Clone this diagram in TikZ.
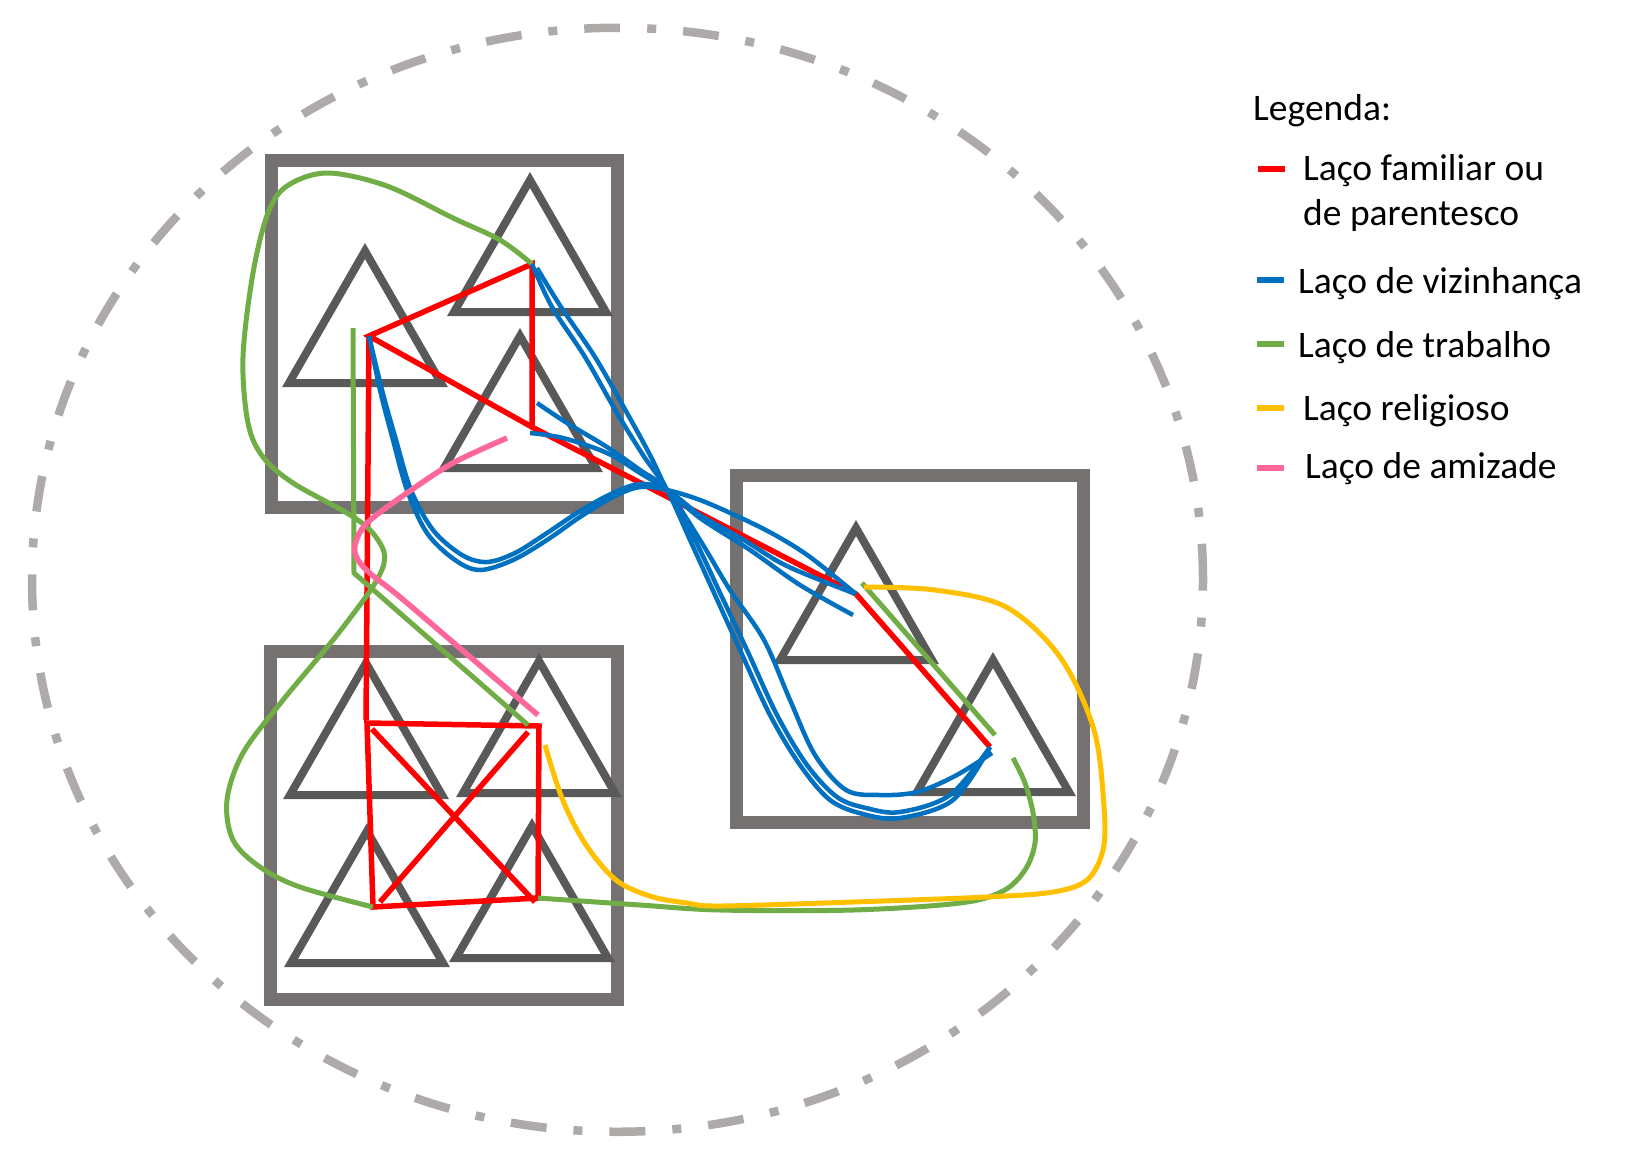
\documentclass[tikz,border=0pt]{standalone}
\usepackage{fontspec}
\setmainfont{Carlito}
\definecolor{boxgray}{RGB}{118,113,113}
\definecolor{trigray}{RGB}{89,89,89}
\definecolor{ellgray}{RGB}{174,170,170}
\definecolor{cred}{RGB}{255,0,0}
\definecolor{cblue}{RGB}{0,112,192}
\definecolor{cgreen}{RGB}{112,173,71}
\definecolor{cyellow}{RGB}{255,192,0}
\definecolor{cpink}{RGB}{255,102,153}
\newcommand{\drawtri}[2]{\draw[tri] (#1,#2) -- ++(-76,132) -- ++(152,0) -- cycle;}
\begin{document}
\begin{tikzpicture}[x=1pt,y=-1pt,
  house/.style={draw=boxgray,line width=13pt},
  tri/.style={draw=trigray,line width=8pt},
  region/.style={draw=ellgray,line width=8.5pt,dash pattern=on 36pt off 27pt on 9pt off 27pt},
  famtie/.style={draw=cred,line width=5.5pt},
  neightie/.style={draw=cblue,line width=4.5pt},
  worktie/.style={draw=cgreen,line width=5pt},
  reltie/.style={draw=cyellow,line width=5pt},
  friendtie/.style={draw=cpink,line width=5.5pt},
  legtext/.style={anchor=base west,inner sep=0pt,font=\fontsize{37.5}{45}\selectfont},
  swatch/.style={line width=6pt}
]
\useasboundingbox (0,0) rectangle (1648,1168);
\fill[white] (0,0) rectangle (1648,1168);

% region
\draw[region] (617.5,579.75) ellipse [x radius=585.5pt, y radius=552pt];

% houses
\draw[house] (271,160.5) rectangle (617.5,507.5);
\draw[house] (270.5,651.5) rectangle (617.5,999);
\draw[house] (736.5,475.5) rectangle (1083.5,822);

% families (triangles)
\drawtri{365}{251}
\drawtri{530}{180}
\drawtri{520}{336}
\drawtri{366}{663}
\drawtri{539}{661}
\drawtri{367}{831}
\drawtri{532}{826}
\drawtri{856}{528}
\drawtri{993}{660}

% named points
\coordinate (pA) at (369,336);
\coordinate (pB) at (532,264);
\coordinate (pB2) at (537,268);
\coordinate (pC) at (532,427);
\coordinate (pinch) at (667,490);
\coordinate (pH) at (856,594);
\coordinate (pI) at (990,747);
\coordinate (pI2) at (992,753);
\coordinate (hEnd) at (853,615);
\coordinate (c1) at (537,403);
\coordinate (c2) at (530,433);
\coordinate (redEnd) at (366,720);
\coordinate (sTL) at (367,723);
\coordinate (sTR) at (539,726);
\coordinate (sBR) at (538,898);
\coordinate (sBL) at (373,907);
\coordinate (dA) at (372,729);
\coordinate (dB) at (535,902);
\coordinate (dC) at (528,732);
\coordinate (dD) at (380,902);
\coordinate (gvTop) at (353,328);
\coordinate (gvBend) at (354,573);
\coordinate (gE) at (528,725);
\coordinate (gI) at (1013,758);
\coordinate (gH) at (862,583);
\coordinate (gI2) at (995,735);
\coordinate (yE) at (545,745);
\coordinate (yH) at (864,587);
\coordinate (pkC) at (507,438);
\coordinate (pkE) at (538,715);

% family ties
\draw[famtie] (pA) -- (pB) -- (pC) -- cycle;
\draw[famtie] (pC) -- (pH) -- (pI);
\draw[famtie] (pA) -- (redEnd);
\draw[famtie] (sTL) -- (sTR) -- (sBR) -- (sBL) -- cycle;
\draw[famtie] (dA) -- (dB);
\draw[famtie] (dC) -- (dD);

% work ties
\draw[worktie] plot[smooth,tension=0.55] coordinates {(pB) (500,240) (453,218) (387,186) (327,173) (287,186) (268,213) (253,273) (243,357) (248,423) (263,457) (293,483) (347,513) (370,530) (383,549) (384,563) (378,578) (365,598) (333,640) (283,700) (243,753) (227,800) (233,840) (260,867) (300,887) (sBL)};
\draw[worktie] (gvTop) -- (gvBend) -- (gE);
\draw[worktie] plot[smooth,tension=0.55] coordinates {(sBR) (640,905) (720,910) (853,910) (960,903) (1003,891) (1025,870) (1035,843) (1033,813) (1025,783) (gI)};
\draw[worktie] (gH) -- (gI2);

% neighbourhood ties
\draw[neightie] plot[smooth,tension=0.55] coordinates {(pA) (380,390) (393,440) (407,490) (427,533) (455,560) (480,570) (513,560) (547,540) (580,517) (613,497) (640,487) (pinch) (700,500) (739,517) (775,535) (810,557) (pH)};
\draw[neightie] plot[smooth,tension=0.55] coordinates {(pA) (382,390) (396,440) (411,490) (433,530) (462,555) (487,562) (515,553) (547,533) (580,511) (613,493) (640,484) (pinch) (700,515) (739,537) (781,563) (820,580) (pH)};
\draw[neightie] plot[smooth,tension=0.55] coordinates {(pB) (552,307) (585,357) (617,413) (643,455) (pinch) (690,540) (715,595) (740,650) (770,715) (800,765) (830,800) (863,814) (900,818) (953,800) (pI)};
\draw[neightie] plot[smooth,tension=0.55] coordinates {(pB2) (561,307) (595,357) (627,413) (650,455) (pinch) (695,540) (721,595) (747,650) (777,715) (807,765) (837,797) (866,808) (900,812) (950,795) (pI)};
\draw[neightie] plot[smooth,tension=0.55] coordinates {(c1) (567,423) (607,447) (640,470) (pinch) (700,540) (730,590) (764,640) (790,700) (815,755) (846,790) (880,795) (917,792) (955,776) (pI2)};
\draw[neightie] plot[smooth,tension=0.55] coordinates {(c2) (563,438) (607,453) (640,473) (pinch) (700,518) (750,550) (800,585) (hEnd)};

% religious tie
\draw[reltie] plot[smooth,tension=0.55] coordinates {(yE) (560,793) (577,830) (597,860) (620,883) (653,897) (687,903) (720,906) (853,902) (987,897) (1053,892) (1087,880) (1103,850) (1104,807) (1094,730) (1060,657) (1006,607) (935,590) (yH)};

% friendship tie
\draw[friendtie] plot[smooth,tension=0.55] coordinates {(pkC) (453,463) (407,493) (367,523) (355,545) (358,560) (372,575) (400,597) (469,656) (pkE)};

% legend
\node[legtext] (legtitle) at (1253,120) {Legenda:};
\node[legtext] (leg1) at (1303,180) {Laço familiar ou};
\node[legtext] (leg1b) at (1303,225) {de parentesco};
\node[legtext] (leg2) at (1298,293) {Laço de vizinhança};
\node[legtext] (leg3) at (1298,357) {Laço de trabalho};
\node[legtext] (leg4) at (1303,420) {Laço religioso};
\node[legtext] (leg5) at (1305,478) {Laço de amizade};
\draw[swatch,cred] (1258,169) -- (1285,169);
\draw[swatch,cblue] (1257,280) -- (1284,280);
\draw[swatch,cgreen] (1257,344) -- (1284,344);
\draw[swatch,cyellow] (1257,408) -- (1284,408);
\draw[swatch,cpink] (1257,468) -- (1284,468);
\end{tikzpicture}
\end{document}
